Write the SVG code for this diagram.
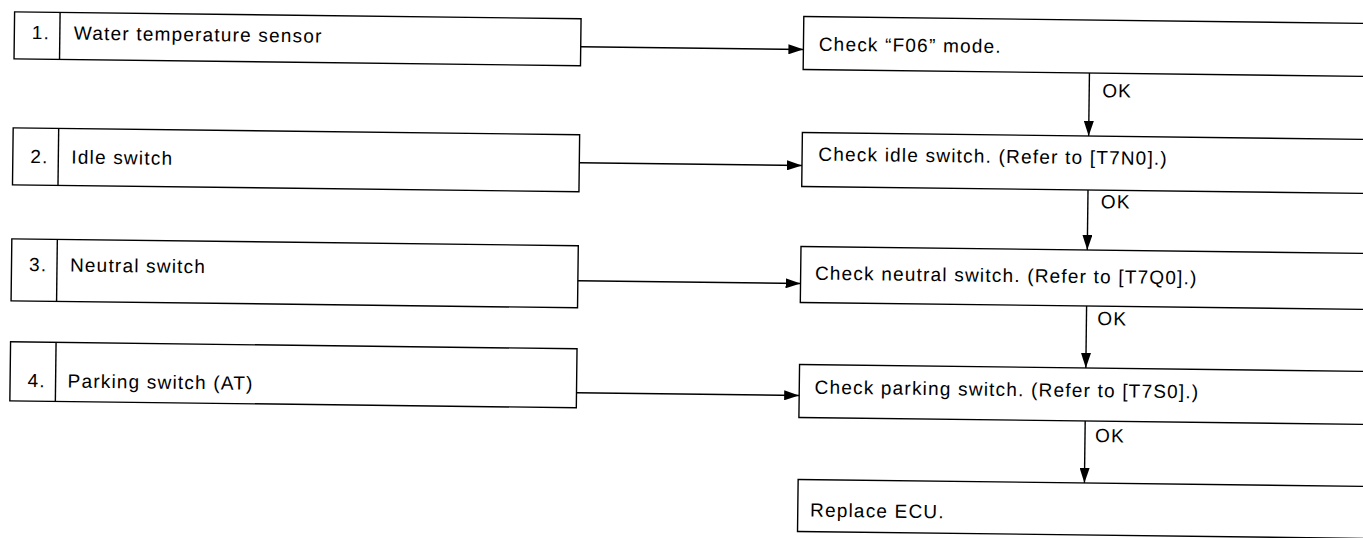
<svg xmlns="http://www.w3.org/2000/svg" width="1363" height="538" viewBox="0 0 1363 538">
<defs>
<style>
.box{fill:#fff;stroke:#000;stroke-width:1.4}
.t{font-family:"Liberation Sans",Arial,sans-serif;font-size:19px;letter-spacing:1.2px;fill:#000}
.c{stroke:#000;stroke-width:1.4;fill:none}
</style>
<marker id="ah" viewBox="0 0 15 10" refX="15" refY="5" markerWidth="15" markerHeight="10" markerUnits="userSpaceOnUse" orient="auto"><path d="M0,0 L15,5 L0,10 Z" fill="#000"/></marker>
</defs>
<rect width="1363" height="538" fill="#fff"/>
<g transform="rotate(0.7 680 270)">
<g id="n1"><rect class="box" x="11.5" y="20" width="566.5" height="47"/><line class="c" x1="57" y1="20" x2="57" y2="67"/><text class="t" x="29" y="47">1.</text><text class="t" x="71" y="47">Water temperature sensor</text></g>
<g id="n2"><rect class="box" x="11.5" y="136" width="566.5" height="57"/><line class="c" x1="57" y1="136" x2="57" y2="193"/><text class="t" x="29" y="171">2.</text><text class="t" x="70" y="171">Idle switch</text></g>
<g id="n3"><rect class="box" x="11.5" y="247" width="566.5" height="62"/><line class="c" x1="57" y1="247" x2="57" y2="309"/><text class="t" x="29" y="279">3.</text><text class="t" x="70" y="279">Neutral switch</text></g>
<g id="n4"><rect class="box" x="11.5" y="350" width="566.5" height="59"/><line class="c" x1="57" y1="350" x2="57" y2="409"/><text class="t" x="29" y="395">4.</text><text class="t" x="69" y="395">Parking switch (AT)</text></g>
<g id="a"><rect class="box" x="800.7" y="15" width="620" height="53"/><text class="t" x="816" y="49">Check “F06” mode.</text></g>
<g id="b"><rect class="box" x="800.7" y="131" width="620" height="54"/><text class="t" x="817" y="159">Check idle switch. (Refer to [T7N0].)</text></g>
<g id="c"><rect class="box" x="800.7" y="245" width="620" height="56"/><text class="t" x="815" y="278">Check neutral switch. (Refer to [T7Q0].)</text></g>
<g id="d"><rect class="box" x="800.7" y="363" width="620" height="53"/><text class="t" x="816" y="392">Check parking switch. (Refer to [T7S0].)</text></g>
<g id="e"><rect class="box" x="800.7" y="478" width="620" height="52"/><text class="t" x="813" y="515">Replace ECU.</text></g>
<g id="connectors">
<line class="c" x1="578" y1="48" x2="800.7" y2="48" marker-end="url(#ah)"/>
<line class="c" x1="578" y1="164" x2="800.7" y2="164" marker-end="url(#ah)"/>
<line class="c" x1="578" y1="282" x2="800.7" y2="282" marker-end="url(#ah)"/>
<line class="c" x1="578" y1="394" x2="800.7" y2="394" marker-end="url(#ah)"/>
<line class="c" x1="1087" y1="68" x2="1087" y2="131" marker-end="url(#ah)"/>
<line class="c" x1="1087" y1="185" x2="1087" y2="245" marker-end="url(#ah)"/>
<line class="c" x1="1087" y1="301" x2="1087" y2="363" marker-end="url(#ah)"/>
<line class="c" x1="1087" y1="416" x2="1087" y2="478" marker-end="url(#ah)"/>
<text class="t" x="1100" y="92">OK</text>
<text class="t" x="1100" y="203">OK</text>
<text class="t" x="1098" y="320">OK</text>
<text class="t" x="1097" y="437">OK</text>
</g>
</g>
</svg>
